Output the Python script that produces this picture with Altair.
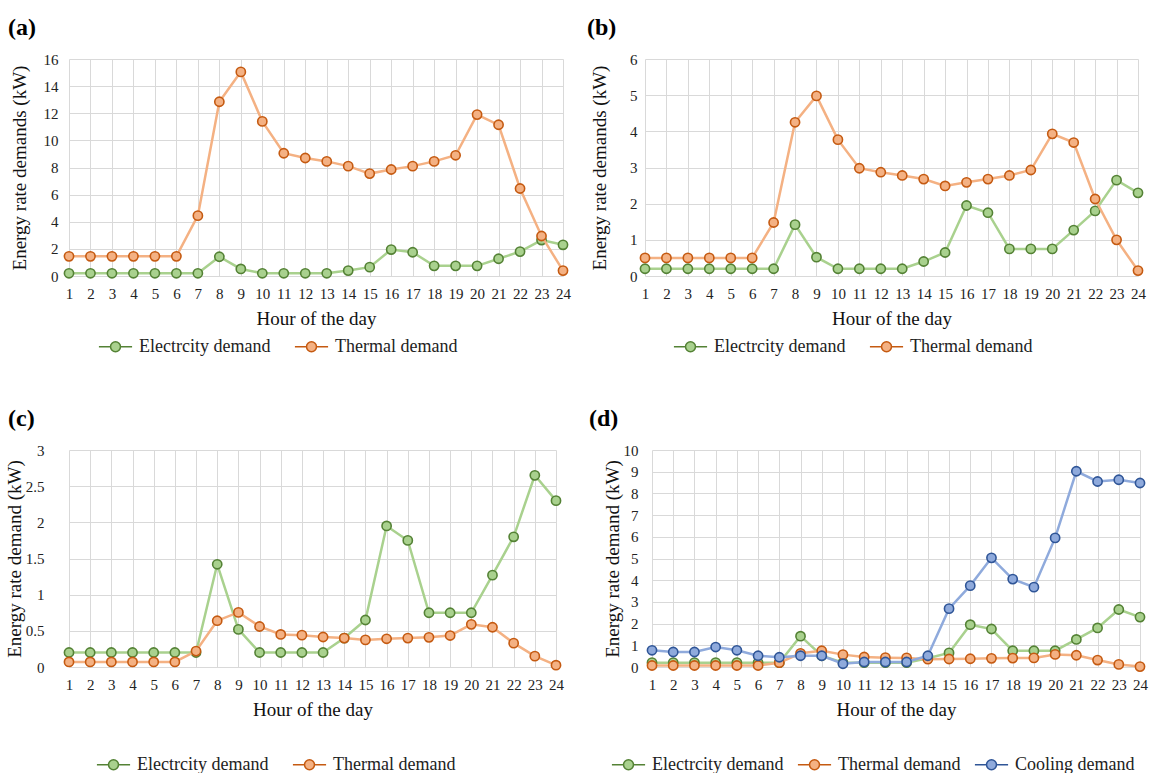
import altair as alt
import pandas as pd

hours = [1, 2, 3, 4, 5, 6, 7, 8, 9, 10, 11, 12, 13, 14, 15, 16, 17, 18, 19, 20, 21, 22, 23, 24]

electricity = [0.2, 0.2, 0.2, 0.2, 0.2, 0.2, 0.2, 1.42, 0.52, 0.2, 0.2, 0.2, 0.2, 0.4,
               0.65, 1.95, 1.75, 0.75, 0.75, 0.75, 1.27, 1.8, 2.65, 2.3]

thermal_a = [1.45, 1.45, 1.45, 1.45, 1.45, 1.45, 4.45, 12.85, 15.05, 11.4, 9.05, 8.7,
             8.45, 8.1, 7.55, 7.85, 8.1, 8.45, 8.9, 11.9, 11.15, 6.45, 2.95, 0.4]

thermal_b = [0.5, 0.5, 0.5, 0.5, 0.5, 0.5, 1.48, 4.25, 4.98, 3.77, 2.98, 2.87,
             2.78, 2.68, 2.49, 2.59, 2.68, 2.78, 2.93, 3.93, 3.69, 2.13, 1.0, 0.15]

thermal_c = [0.07, 0.07, 0.07, 0.07, 0.07, 0.07, 0.22, 0.64, 0.755, 0.56, 0.45, 0.44,
             0.415, 0.4, 0.375, 0.39, 0.4, 0.41, 0.435, 0.59, 0.55, 0.33, 0.15, 0.025]

thermal_d = [0.07, 0.07, 0.07, 0.07, 0.07, 0.07, 0.2, 0.63, 0.75, 0.57, 0.46, 0.43,
             0.42, 0.36, 0.37, 0.38, 0.4, 0.41, 0.42, 0.58, 0.54, 0.32, 0.12, 0.02]

cooling_d = [0.77, 0.69, 0.69, 0.92, 0.77, 0.52, 0.45, 0.52, 0.52, 0.15, 0.23, 0.23,
             0.23, 0.52, 2.69, 3.75, 5.03, 4.05, 3.68, 5.95, 9.02, 8.55, 8.63, 8.48]

series_names = ["Electrcity demand", "Thermal demand", "Cooling demand"]
line_colors = ["#A9D18E", "#F4B183", "#8FAADC"]
edge_colors = ["#548235", "#C55A11", "#2F5597"]

FONT = "Liberation Serif"
LEGEND_SYMBOL = ("M-1,0L-0.3,0M0.3,0L1,0"
                 "M-0.3,0A0.3,0.3 0 1,0 0.3,0A0.3,0.3 0 1,0 -0.3,0Z")


def panel(label, title_dx, ytitle, series, ymax, ystep, width,
          label_pad, title_pad, legend_x, legend_y, col_pad):
    rows = []
    names = []
    for name, vals in series:
        names.append(name)
        for h, v in zip(hours, vals):
            rows.append({"hour": h, "series": name, "value": v})
    df = pd.DataFrame(rows)
    idx = [series_names.index(n) for n in names]
    light = [line_colors[i] for i in idx]
    dark = [edge_colors[i] for i in idx]
    nticks = int(round(ymax / ystep))
    yvals = [round(i * ystep, 3) for i in range(nticks + 1)]

    x = alt.X("hour:O",
              scale=alt.Scale(type="point", padding=0),
              axis=alt.Axis(title="Hour of the day", labelAngle=0, grid=True,
                            ticks=False, domain=False, labelPadding=10,
                            titlePadding=8, labelFont=FONT, labelFontSize=15,
                            titleFont=FONT, titleFontSize=19))
    y = alt.Y("value:Q",
              scale=alt.Scale(domain=[0, ymax], nice=False, zero=True),
              axis=alt.Axis(title=ytitle, values=yvals, format="~r", grid=True,
                            ticks=False, domain=False, labelPadding=label_pad,
                            titlePadding=title_pad, labelFont=FONT,
                            labelFontSize=15, titleFont=FONT, titleFontSize=19))
    leg = alt.Legend(title=None, orient="none", direction="horizontal",
                     legendX=legend_x, legendY=legend_y, symbolType=LEGEND_SYMBOL,
                     symbolSize=1100, symbolStrokeWidth=1.5, columnPadding=col_pad,
                     labelOffset=6, labelFont=FONT, labelFontSize=18,
                     labelColor="#222", labelLimit=400, symbolOpacity=1)
    fill_scale = alt.Scale(domain=names, range=light)
    stroke_scale = alt.Scale(domain=names, range=dark)

    layers = []
    for name, lc in zip(names, light):
        sub = alt.Chart(df).transform_filter(alt.datum.series == name)
        layers.append(sub.mark_line(color=lc, strokeWidth=2.5).encode(x=x, y=y))
        layers.append(sub.mark_circle(size=85, strokeWidth=1.6, opacity=1).encode(
            x=x, y=y,
            fill=alt.Fill("series:N", sort=names, scale=fill_scale, legend=leg),
            stroke=alt.Stroke("series:N", sort=names, scale=stroke_scale, legend=leg),
        ))
    return alt.layer(*layers).properties(
        width=width, height=217,
        title=alt.TitleParams(text=label, anchor="start", frame="group",
                              dx=title_dx, offset=12, font=FONT, fontSize=24,
                              fontWeight="bold", color="#000"),
    )


pa = panel("(a)", -61, "Energy rate  demands (kW)",
           [("Electrcity demand", electricity), ("Thermal demand", thermal_a)],
           16, 2, 494, 11, 14, 29, 270, 20)
pb = panel("(b)", -58, "Energy rate demands (kW)",
           [("Electrcity demand", electricity), ("Thermal demand", thermal_b)],
           6, 1, 493, 8, 20, 28, 270, 20)
pc = panel("(c)", -61, "Energy rate demand (kW)",
           [("Electrcity demand", electricity), ("Thermal demand", thermal_c)],
           3, 0.5, 487, 25, 1, 27, 297, 20)
pd_ = panel("(d)", -63, "Energy rate demand (kW)",
            [("Electrcity demand", electricity), ("Thermal demand", thermal_d),
             ("Cooling demand", cooling_d)],
            10, 1, 488, 14, 1, -41, 297, 10)

row1 = alt.hconcat(pa, pb, spacing=16).resolve_scale(
    fill="independent", stroke="independent").resolve_legend(
    fill="independent", stroke="independent")
row2 = alt.hconcat(pc, pd_, spacing=25).resolve_scale(
    fill="independent", stroke="independent").resolve_legend(
    fill="independent", stroke="independent")

chart = alt.vconcat(row1, row2, spacing=51).resolve_scale(
    fill="independent", stroke="independent").resolve_legend(
    fill="independent", stroke="independent").properties(
    padding={"left": 5, "top": 16, "right": 5, "bottom": 5}
).configure_view(stroke=None).configure_axis(
    labelColor="#222", titleFontWeight="normal", titleColor="#111",
    gridColor="#d9d9d9", gridWidth=1,
)

chart.save("out.html", embed_options={"renderer": "svg", "actions": False})
